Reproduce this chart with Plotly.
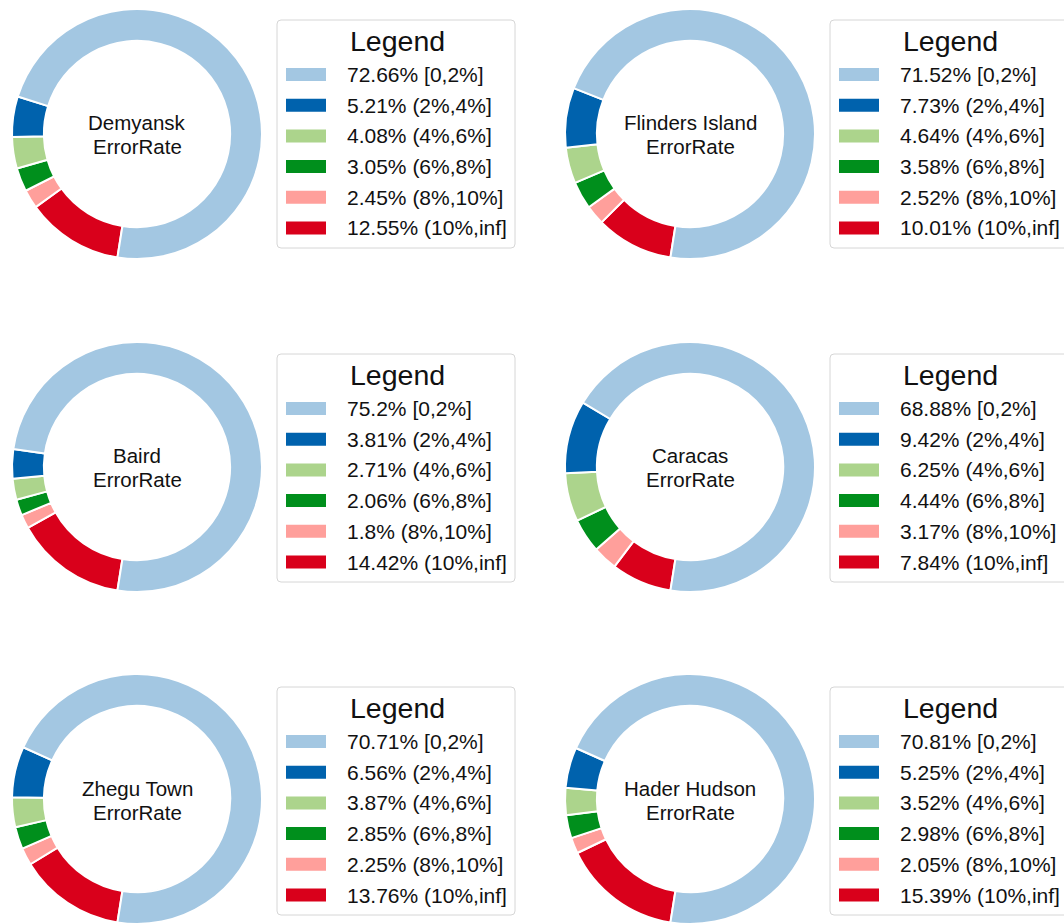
import plotly.graph_objects as go

# Canvas size in pixels
W, H = 1064, 924

# Error-rate bins and the share of each bin per city (percent)
bins = ["[0,2%]", "(2%,4%]", "(4%,6%]", "(6%,8%]", "(8%,10%]", "(10%,inf]"]
cities = ["Demyansk", "Flinders Island", "Baird", "Caracas", "Zhegu Town", "Hader Hudson"]
demyansk = [72.66, 5.21, 4.08, 3.05, 2.45, 12.55]
flinders_island = [71.52, 7.73, 4.64, 3.58, 2.52, 10.01]
baird = [75.2, 3.81, 2.71, 2.06, 1.8, 14.42]
caracas = [68.88, 9.42, 6.25, 4.44, 3.17, 7.84]
zhegu_town = [70.71, 6.56, 3.87, 2.85, 2.25, 13.76]
hader_hudson = [70.81, 5.25, 3.52, 2.98, 2.05, 15.39]
shares = [demyansk, flinders_island, baird, caracas, zhegu_town, hader_hudson]

colors = ["#a3c7e2", "#0062ad", "#acd48c", "#008f1c", "#ff9f9b", "#d9001b"]

FONT = "Liberation Sans, Arial, sans-serif"
INK = "#111111"

# Grid geometry (pixels)
col_cx = [137, 690]
row_cy = [134, 467, 799]
box_top = [20, 354, 687]
R = 125
box_left = [277, 830]
box_w, box_h = 238, 228


def px(x):
    return min(max(x / W, 0.0), 1.0)


def py(y):
    return min(max(1 - y / H, 0.0), 1.0)


def rounded_box(x0, y0, x1, y1, r):
    X0, X1 = x0 / W, x1 / W
    Y0, Y1 = 1 - y0 / H, 1 - y1 / H
    rx, ry = r / W, r / H
    return (
        f"M{X0 + rx},{Y0} L{X1 - rx},{Y0} Q{X1},{Y0} {X1},{Y0 - ry} "
        f"L{X1},{Y1 + ry} Q{X1},{Y1} {X1 - rx},{Y1} "
        f"L{X0 + rx},{Y1} Q{X0},{Y1} {X0},{Y1 + ry} "
        f"L{X0},{Y0 - ry} Q{X0},{Y0} {X0 + rx},{Y0} Z"
    )


def text(s, x, y, size, anchor="center"):
    return dict(text=s, xref="paper", yref="paper", x=px(x), y=py(y),
                xanchor=anchor, yanchor="middle", showarrow=False,
                font=dict(family=FONT, size=size, color=INK))


fig = go.Figure()
shapes = []
annotations = []

for k, (city, vals) in enumerate(zip(cities, shares)):
    row, col = divmod(k, 2)
    cx, cy = col_cx[col], row_cy[row]

    # Donut: slices listed in reverse and drawn clockwise so that the
    # first bin starts just left of 6 o'clock and runs counter-clockwise.
    fig.add_trace(go.Pie(
        labels=[f"{v}% {b}" for v, b in zip(vals, bins)][::-1],
        values=vals[::-1],
        marker=dict(colors=colors[::-1], line=dict(color="white", width=2)),
        hole=0.745,
        sort=False,
        direction="clockwise",
        rotation=189,
        textinfo="none",
        showlegend=False,
        domain=dict(x=[px(cx - R), px(cx + R)], y=[py(cy + R), py(cy - R)]),
    ))

    # Two-line label in the donut hole
    annotations.append(text(city, cx, cy - 11, 20.5))
    annotations.append(text("ErrorRate", cx, cy + 13, 20.5))

    # Legend panel
    bx = box_left[col]
    by = box_top[row]
    shapes.append(dict(type="path", xref="paper", yref="paper",
                       path=rounded_box(bx, by, bx + box_w, by + box_h, 4),
                       line=dict(color="#d6d6d6", width=1), fillcolor="white",
                       layer="below"))
    annotations.append(text("Legend", bx + box_w / 2 + 1, by + 21, 28.5))
    for i, (v, b) in enumerate(zip(vals, bins)):
        yc = by + 54.5 + i * 30.7
        shapes.append(dict(type="rect", xref="paper", yref="paper",
                           x0=px(bx + 9), x1=px(bx + 49),
                           y0=py(yc + 6.5), y1=py(yc - 6.5),
                           line=dict(width=0), fillcolor=colors[i]))
        annotations.append(text(f"{v}% {b}", bx + 68, yc, 21, anchor="left"))

fig.update_layout(
    width=W, height=H,
    margin=dict(l=0, r=0, t=0, b=0),
    paper_bgcolor="white", plot_bgcolor="white",
    shapes=shapes, annotations=annotations,
    showlegend=False,
)

fig.write_html("out.html")
